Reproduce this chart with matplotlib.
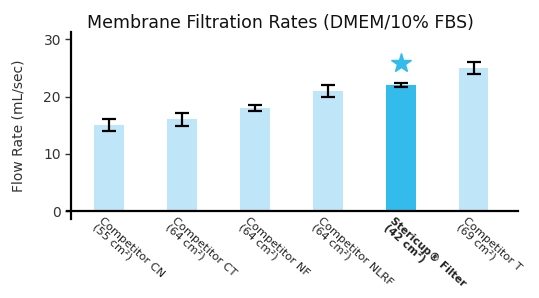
import matplotlib.pyplot as plt

# Data
labels = ['Competitor CN\n(55 cm²)', 'Competitor CT\n(64 cm²)', 'Competitor NF\n(64 cm²)',
          'Competitor NLRF\n(64 cm²)', 'Stericup® Filter\n(42 cm²)', 'Competitor T\n(69 cm²)']
rates = [15, 16, 18, 21, 22, 25]
errors = [1.0, 1.1, 0.6, 1.1, 0.3, 1.0]
highlight = 4
star_value = 25.8

LIGHT = '#bfe6f8'
DARK = '#33bbec'

fig = plt.figure(figsize=(5.39, 2.98), dpi=100)
ax = fig.add_axes([0.1243, 0.265, 0.8367, 0.628])

x = list(range(len(rates)))
colors = [DARK if i == highlight else LIGHT for i in x]
ax.bar(x, rates, width=0.41, color=colors, zorder=1)
ax.errorbar(x, rates, yerr=errors, fmt='none', ecolor='black', elinewidth=1.6,
            capsize=5, capthick=1.6, zorder=2)
ax.plot(highlight, star_value, marker='*', markersize=15, color=DARK, linestyle='none')

ax.set_xlim(-0.58, 5.61)
ax.set_ylim(-1.4, 31.3)
ax.spines['bottom'].set_position(('data', 0))
ax.spines['left'].set_position(('data', -0.52))
for s in ['top', 'right']:
    ax.spines[s].set_visible(False)
ax.spines['left'].set_linewidth(1.6)
ax.spines['bottom'].set_linewidth(1.6)

ax.set_yticks([0, 10, 20, 30])
ax.tick_params(axis='y', direction='out', length=4, width=1, labelsize=10, colors='#333333')
ax.set_xticks(x)
ax.set_xticklabels([])
ax.tick_params(axis='x', length=0)

for i, lab in enumerate(labels):
    bold = i == highlight
    ax.annotate(lab, xy=(i, 0), xycoords='data', xytext=(-4, -3), textcoords='offset points',
                rotation=-42, rotation_mode='anchor', ha='left', va='top',
                fontsize=7.8 if bold else 8.2, color='#222222', linespacing=0.9,
                fontweight='bold' if bold else 'normal')

ax.set_ylabel('Flow Rate (mL/sec)', fontsize=10, color='#333333', labelpad=13)
fig.text(0.52, 0.906, 'Membrane Filtration Rates (DMEM/10% FBS)', ha='center', va='baseline',
         fontsize=12.5, color='#111111')

plt.savefig('out.png', dpi=100)
